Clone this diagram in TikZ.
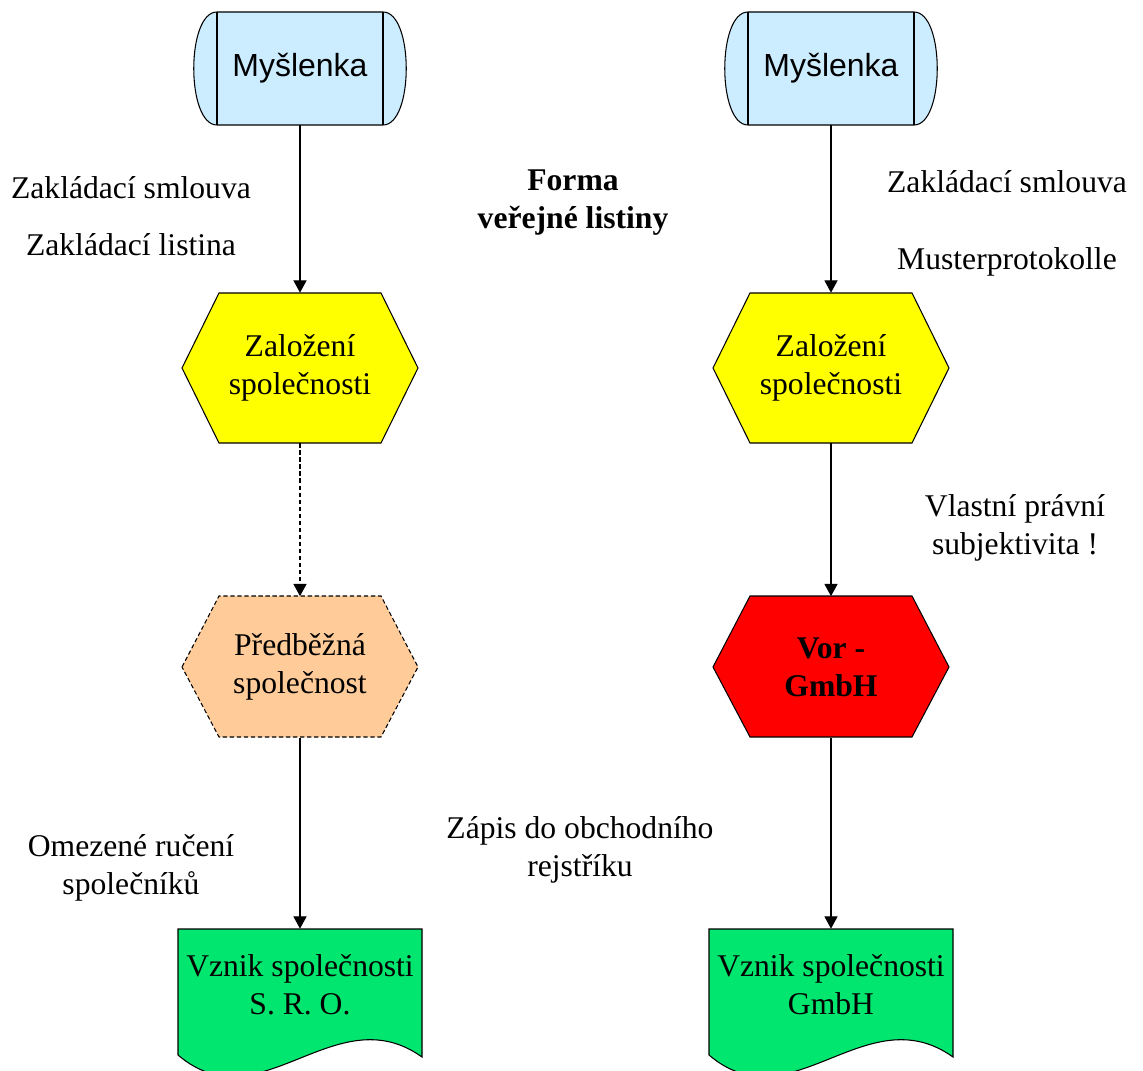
\documentclass[tikz,border=0pt]{standalone}
\usepackage{fontspec}
\setmainfont{Liberation Serif}
\newfontfamily\flowsans{Liberation Sans}
\usetikzlibrary{arrows.meta}

\definecolor{ideablue}{HTML}{CCECFF}
\definecolor{stepyellow}{HTML}{FFFF00}
\definecolor{prepeach}{HTML}{FFCC99}
\definecolor{vorred}{HTML}{FF0000}
\definecolor{docgreen}{HTML}{00E66E}

\tikzset{
  lbl/.style={align=center,inner sep=0pt,font=\fontsize{18}{21.6}\selectfont},
  box/.style 2 args={lbl,minimum width=#1*0.02cm,minimum height=#2*0.02cm},
  arr/.style={-{Triangle[length=7pt,width=7.5pt]},line width=0.6pt},
  outline/.style={line width=0.6pt}
}

\begin{document}
\begin{tikzpicture}[x=0.02cm,y=-0.02cm]
  \useasboundingbox (0,0) rectangle (1143,1071);
  % shapes of both columns
  \foreach \cx in {300,831}{
    \draw [outline,fill=ideablue] (\cx-83,12) -- (\cx+83,12)
      .. controls (\cx+114,12) and (\cx+114,125) .. (\cx+83,125) -- (\cx-83,125)
      .. controls (\cx-114,125) and (\cx-114,12) .. (\cx-83,12) -- cycle;
    \draw [outline] (\cx-83,12) -- (\cx-83,125) (\cx+83,12) -- (\cx+83,125);
    \draw [outline,fill=stepyellow] (\cx-118,368) -- (\cx-81,293) -- (\cx+81,293)
      -- (\cx+118,368) -- (\cx+81,443) -- (\cx-81,443) -- cycle;
    \draw [outline,fill=docgreen] (\cx-122,929) -- (\cx+122,929) -- (\cx+122,1057)
      .. controls (\cx+35,995) and (\cx-40,1125) .. (\cx-122,1055) -- cycle;
  }
  \draw [outline,fill=prepeach,dash pattern=on 2.5pt off 1.5pt] (182,667) -- (219,596)
    -- (381,596) -- (418,667) -- (381,737) -- (219,737) -- cycle;
  \draw [outline,fill=vorred] (713,667) -- (750,596) -- (912,596) -- (949,667)
    -- (912,737) -- (750,737) -- cycle;

  % nodes
  \node [box={166}{113},font=\flowsans\fontsize{18.2}{21.6}\selectfont] (idea1) at (300,68) {Myšlenka};
  \node [box={166}{113},font=\flowsans\fontsize{18.2}{21.6}\selectfont] (idea2) at (831,68) {Myšlenka};
  \node [box={236}{150}] (found1) at (300,368) {Založení\\společnosti};
  \node [box={236}{150}] (found2) at (831,368) {Založení\\společnosti};
  \node [box={236}{141}] (prep) at (300,667) {Předběžná\\společnost};
  \node [box={236}{141},font=\fontsize{18}{21.6}\selectfont\bfseries] (vor) at (831,667) {Vor -\\GmbH};
  \node [box={244}{112}] (sro) at (300,985) {Vznik společnosti\\S. R. O.};
  \node [box={244}{112}] (gmbh) at (831,985) {Vznik společnosti\\GmbH};

  % labels
  \node [lbl] (contract1) at (131,188) {Zakládací smlouva};
  \node [lbl] (deed) at (131,245) {Zakládací listina};
  \node [lbl,font=\fontsize{18}{21.6}\selectfont\bfseries] (form) at (573,203) {Forma\\veřejné listiny};
  \node [lbl] (contract2) at (1007,182) {Zakládací smlouva};
  \node [lbl] (muster) at (1007,262) {Musterprotokolle};
  \node [lbl] (legal) at (1015,528) {Vlastní právní\\subjektivita !};
  \node [lbl] (liab) at (131,868) {Omezené ručení\\společníků};
  \node [lbl] (reg) at (580,850) {Zápis do obchodního\\rejstříku};

  % connectors
  \draw [arr] (idea1) -- (found1);
  \draw [arr,dash pattern=on 2.5pt off 1.5pt] (found1) -- (prep);
  \draw [arr] (prep) -- (sro);
  \draw [arr] (idea2) -- (found2);
  \draw [arr] (found2) -- (vor);
  \draw [arr] (vor) -- (gmbh);
\end{tikzpicture}
\end{document}
